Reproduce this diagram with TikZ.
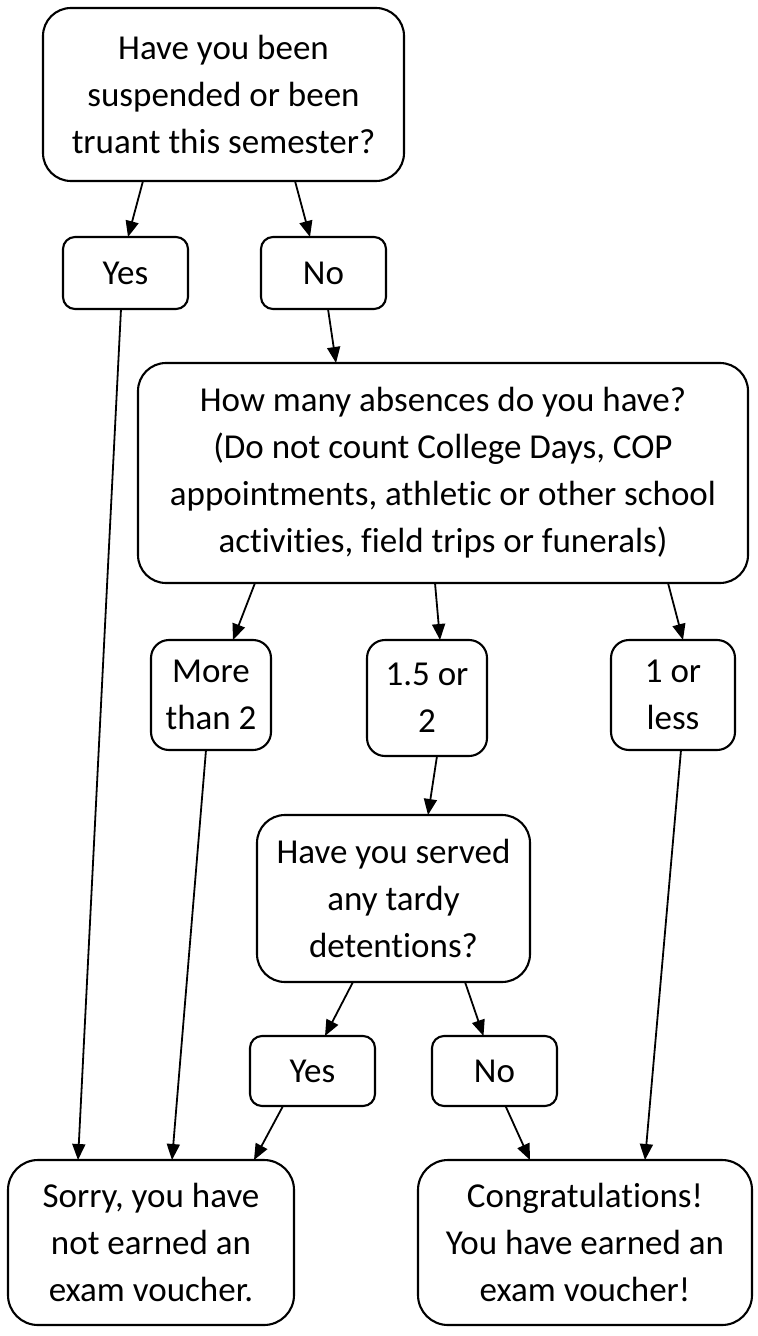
\documentclass[tikz,border=0pt]{standalone}
\usepackage{fontspec}
\setmainfont{Carlito}[Ligatures={NoCommon}]
\usetikzlibrary{arrows.meta, positioning}

\begin{document}
\begin{tikzpicture}[
    every node/.style={font=\fontsize{17.5}{23.5}\selectfont, align=center, inner sep=0pt},
    box/.style={rectangle, draw=black, line width=1.05pt, fill=white, outer sep=0pt},
    question/.style={box, rounded corners=14pt},
    answer/.style={box, rounded corners=6pt, minimum width=62.5pt, minimum height=36pt},
    amount/.style={box, rounded corners=9pt, minimum width=60pt, minimum height=55pt},
    result/.style={box, rounded corners=15pt, minimum height=82.5pt},
    arrow/.style={-{Triangle[length=8pt, width=6.5pt]}, line width=0.9pt}
]
\useasboundingbox[fill=white] (0,0) rectangle (379pt,-668pt);
\node[question, minimum width=180.5pt, minimum height=86.5pt] (q1) at (111.75pt,-47.25pt) {Have you been\\suspended or been\\truant this semester?};
\node[answer, below=28pt of q1, xshift=-49pt] (yes1) {Yes};
\node[answer, right=36.5pt of yes1] (no1) {No};
\node[question, minimum width=305pt, minimum height=110pt, below=27pt of no1, xshift=59.75pt] (q2) {How many absences do you have?\\(Do not count College Days, COP\\appointments, athletic or other school\\activities, field trips or funerals)};
\node[amount, below=28.5pt of q2, xshift=-116pt] (more) {More\\than 2};
\node[amount, minimum height=58pt, below=28.5pt of q2, xshift=-8pt] (mid) {1.5 or\\2};
\node[amount, minimum width=62pt, below=28.5pt of q2, xshift=115pt] (less) {1 or\\less};
\node[question, minimum width=136.5pt, minimum height=83.5pt, below=29.5pt of mid, xshift=-16.75pt] (q3) {Have you served\\any tardy\\detentions?};
\node[answer, minimum height=35pt, below=27pt of q3, xshift=-40.5pt] (yes2) {Yes};
\node[answer, minimum height=35pt, right=28.5pt of yes2] (no2) {No};
\node[result, minimum width=143pt, below=27pt of yes2, xshift=-80.75pt] (sorry) {Sorry, you have\\not earned an\\exam voucher.};
\node[result, minimum width=167pt, right=62pt of sorry] (congrats) {Congratulations!\\You have earned an\\exam voucher!};

\draw[arrow] ([xshift=-40.25pt]q1.south) -- ([xshift=1.25pt]yes1.north);
\draw[arrow] ([xshift=35.75pt]q1.south) -- ([xshift=-6.75pt]no1.north);
\draw[arrow] ([xshift=2.25pt]no1.south) -- ([xshift=-53.5pt]q2.north);
\draw[arrow] ([xshift=-94pt]q2.south) -- ([xshift=11pt]more.north);
\draw[arrow] ([xshift=-4pt]q2.south) -- ([xshift=6.5pt]mid.north);
\draw[arrow] ([xshift=112.5pt]q2.south) -- ([xshift=5pt]less.north);
\draw[arrow] ([xshift=5pt]mid.south) -- ([xshift=17.25pt]q3.north);
\draw[arrow] ([xshift=-20.25pt]q3.south) -- ([xshift=6.25pt]yes2.north);
\draw[arrow] ([xshift=35.75pt]q3.south) -- ([xshift=-5.5pt]no2.north);
\draw[arrow] ([xshift=-2.25pt]yes1.south) -- ([xshift=-36.5pt]sorry.north);
\draw[arrow] ([xshift=-2.5pt]more.south) -- ([xshift=10.5pt]sorry.north);
\draw[arrow] ([xshift=-14.75pt]yes2.south) -- ([xshift=51.5pt]sorry.north);
\draw[arrow] ([xshift=5.5pt]no2.south) -- ([xshift=-27.5pt]congrats.north);
\draw[arrow] ([xshift=4pt]less.south) -- ([xshift=30pt]congrats.north);
\end{tikzpicture}
\end{document}
